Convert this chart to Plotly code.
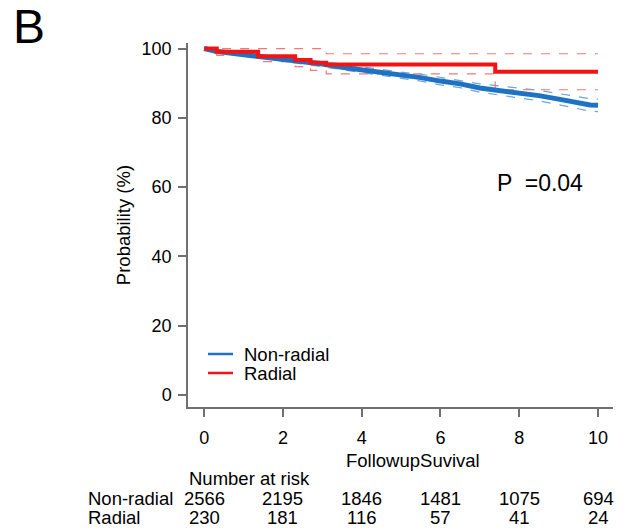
import plotly.graph_objects as go

# Non-radial KM estimate
nr_time = [0, 0.15, 0.3, 0.6, 1.0, 1.5, 2.0, 2.5, 3.0, 3.5, 4.0, 4.5, 5.0, 5.5, 6.0, 6.5, 7.0, 7.5, 8.0, 8.5, 9.0, 9.5, 9.8, 10.0]
nr_surv = [100, 99.5, 99.2, 98.8, 98.3, 97.7, 97.0, 96.3, 95.5, 94.6, 93.9, 93.1, 92.3, 91.6, 90.6, 89.8, 88.6, 87.9, 87.2, 86.4, 85.4, 84.3, 83.7, 83.6]
nr_upper = [100, 99.7, 99.5, 99.2, 98.8, 98.2, 97.6, 97.0, 96.2, 95.4, 94.7, 94.0, 93.2, 92.6, 91.7, 90.9, 89.8, 89.2, 88.6, 87.9, 87.0, 86.0, 85.5, 85.4]
nr_lower = [100, 99.3, 98.9, 98.4, 97.8, 97.2, 96.4, 95.6, 94.8, 93.8, 93.1, 92.2, 91.4, 90.6, 89.5, 88.7, 87.4, 86.6, 85.8, 84.9, 83.8, 82.6, 81.9, 81.8]

# Radial KM estimate
r_time = [0, 0.32, 1.37, 2.31, 2.7, 3.1, 7.39, 10.0]
r_surv = [100, 99.1, 97.8, 96.7, 95.9, 95.4, 93.3, 93.3]
r_upper = [100, 100, 100, 100, 100, 98.5, 98.5, 98.5]
r_lower = [100, 98.0, 96.2, 94.8, 93.7, 92.7, 88.1, 88.1]

x_ticks = [0, 2, 4, 6, 8, 10]
y_ticks = [0, 20, 40, 60, 80, 100]
groups = ["Non-radial", "Radial"]
risk_nonradial = [2566, 2195, 1846, 1481, 1075, 694]
risk_radial = [230, 181, 116, 57, 41, 24]

BLUE = "#1F72C3"
RED = "#F21414"
BLUE_CI = "#6AA6DC"
RED_CI = "#F07A7A"
FONT = "Liberation Sans, Arial, sans-serif"
TXT = 18.5

# plot area in pixels: x 188..613, y 43..407
PL, PR, PT, PB = 188, 613, 43, 407
W, H = PR - PL, PB - PT


def px(xpix):
    return (xpix - PL) / W


def py(ypix):
    return (PB - ypix) / H


fig = go.Figure()
fig.add_trace(go.Scatter(x=nr_time, y=nr_upper, mode="lines", line=dict(color=BLUE_CI, width=1.2, dash="dash"), showlegend=False, hoverinfo="skip"))
fig.add_trace(go.Scatter(x=nr_time, y=nr_lower, mode="lines", line=dict(color=BLUE_CI, width=1.2, dash="dash"), showlegend=False, hoverinfo="skip"))
fig.add_trace(go.Scatter(x=r_time, y=r_upper, mode="lines", line=dict(color=RED_CI, width=1.2, dash="dash", shape="hv"), showlegend=False, hoverinfo="skip"))
fig.add_trace(go.Scatter(x=r_time, y=r_lower, mode="lines", line=dict(color=RED_CI, width=1.2, dash="dash", shape="hv"), showlegend=False, hoverinfo="skip"))
fig.add_trace(go.Scatter(x=nr_time, y=nr_surv, mode="lines", name=groups[0], line=dict(color=BLUE, width=5), showlegend=False))
fig.add_trace(go.Scatter(x=r_time, y=r_surv, mode="lines", name=groups[1], line=dict(color=RED, width=4, shape="hv"), showlegend=False))

annotations = []
shapes = []
annotations.append(dict(text="B", xref="paper", yref="paper", x=px(11), y=py(-2),
                        xanchor="left", yanchor="top", showarrow=False, font=dict(size=48, color="black", family=FONT)))
annotations.append(dict(text="P  =0.04", xref="x", yref="y", x=8.52, y=61.2, xanchor="center", yanchor="middle",
                        showarrow=False, font=dict(size=23, color="black", family=FONT)))
annotations.append(dict(text="FollowupSuvival", xref="x", yref="paper", x=5.3, y=py(461), xanchor="center",
                        yanchor="middle", showarrow=False, font=dict(size=TXT, color="black", family=FONT)))
annotations.append(dict(text="Number at risk", xref="paper", yref="paper", x=px(187), y=py(478),
                        xanchor="left", yanchor="middle", showarrow=False, font=dict(size=TXT, color="black", family=FONT)))

# legend (manual, tight spacing as in reference)
for name, col, yy in zip(groups, [BLUE, RED], [354, 373]):
    shapes.append(dict(type="line", xref="paper", yref="paper", x0=px(208), x1=px(233), y0=py(yy), y1=py(yy),
                       line=dict(color=col, width=2.5)))
    annotations.append(dict(text=name, xref="paper", yref="paper", x=px(242), y=py(yy), xanchor="left",
                            yanchor="middle", showarrow=False, font=dict(size=TXT, color="black", family=FONT)))

# number at risk table
for name, vals, yy in zip(groups, [risk_nonradial, risk_radial], [498, 517]):
    annotations.append(dict(text=name, xref="paper", yref="paper", x=px(86), y=py(yy), xanchor="left",
                            yanchor="middle", showarrow=False, font=dict(size=TXT, color="black", family=FONT)))
    for t, v in zip(x_ticks, vals):
        annotations.append(dict(text=str(v), xref="x", yref="paper", x=t, y=py(yy), xanchor="center",
                                yanchor="middle", showarrow=False, font=dict(size=TXT, color="black", family=FONT)))

fig.update_layout(
    width=627, height=531,
    margin=dict(l=PL, r=627 - PR, t=PT, b=531 - PB),
    paper_bgcolor="white", plot_bgcolor="white",
    font=dict(family=FONT, size=18, color="black"),
    annotations=annotations,
    shapes=shapes,
    showlegend=False,
    xaxis=dict(range=[-0.41, 10.38], tickvals=x_ticks, ticktext=[str(v) for v in x_ticks], showgrid=False,
               zeroline=False, showline=True, linecolor="#707070", linewidth=1.5, ticks="outside", ticklen=8,
               tickcolor="#707070", tickwidth=1.5, ticklabelstandoff=6, tickfont=dict(size=18)),
    yaxis=dict(range=[-3.5, 101.6], tickvals=y_ticks, ticktext=[str(v) for v in y_ticks], showgrid=False,
               zeroline=False, showline=True, linecolor="#707070", linewidth=1.5, ticks="outside", ticklen=8,
               tickcolor="#707070", tickwidth=1.5, ticklabelstandoff=3, tickfont=dict(size=18),
               title=dict(text="Probability (%)", font=dict(size=TXT), standoff=6)),
)

fig.write_html("out.html")
